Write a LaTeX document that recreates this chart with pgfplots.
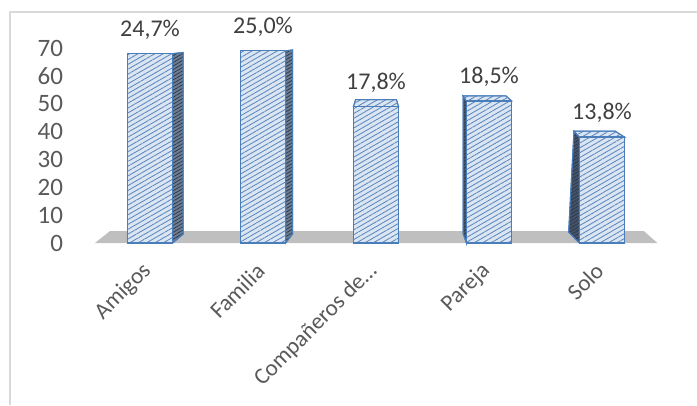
\documentclass[border=0pt]{standalone}
\usepackage{pgfplots}
\pgfplotsset{compat=1.18}
\usepackage{fontspec}
\setmainfont{Carlito}
\usetikzlibrary{patterns.meta}
\definecolor{tickgray}{HTML}{595959}
\definecolor{labgray}{HTML}{404040}
\definecolor{barline}{HTML}{4A7EBB}
\definecolor{barfill}{HTML}{DCE6F2}
\definecolor{hatch}{HTML}{5A88C0}
\definecolor{sidefill}{HTML}{6F7D91}
\definecolor{sidehatch}{HTML}{2C3B52}
\definecolor{darkside}{HTML}{465266}
\definecolor{floorgray}{HTML}{BFBFBF}
\definecolor{framegray}{HTML}{D9D9D9}
\tikzset{
  fronthatch/.style={postaction={pattern={Lines[angle=30,distance=4.2pt,line width=0.85pt]},pattern color=hatch}},
  sidehatchst/.style={postaction={pattern={Lines[angle=30,distance=3pt,line width=0.8pt]},pattern color=sidehatch}},
}
\begin{document}
\begin{tikzpicture}[x=1pt,y=1pt]
\useasboundingbox (0,0) rectangle (697,405);
\draw[framegray, line width=1.5pt] (10,0) -- (10,393) -- (697,393);
\begin{axis}[
  at={(93.5pt,162pt)}, anchor=south west,
  scale only axis, width=565pt, height=195pt,
  xmin=-0.5, xmax=4.5, ymin=0, ymax=70,
  clip=false,
  axis line style={draw=none},
  major tick length=0pt,
  /pgf/number format/assume math mode=true,
  ytick={0,10,...,70},
  xtick={0,...,4},
  xticklabels={Amigos,Familia,Compañeros de…,Pareja,Solo},
  yticklabel style={font=\fontsize{25}{28}\selectfont, text=tickgray, anchor=east, xshift=-27pt},
  xticklabel style={font=\fontsize{23}{26}\selectfont, text=tickgray, xshift=0pt, yshift=-22pt, rotate=45, anchor=east},
  every node near coord/.append style={font=\fontsize{24}{28}\selectfont, text=labgray, anchor=center, yshift=24pt},
]
% floor
\addplot[fill=floorgray, draw=none, forget plot] coordinates {(-0.487,0) (4.49,0) (4.37,4.3) (-0.354,4.3)} -- cycle;
% side faces
\addplot[fill=sidefill, draw=barline, line width=1pt, sidehatchst, forget plot] coordinates {(0.2,0) (0.2,68) (0.293,68.4) (0.293,3.2)} -- cycle;
\addplot[fill=sidefill, draw=barline, line width=1pt, sidehatchst, forget plot] coordinates {(1.2,0) (1.2,69) (1.262,69.3) (1.262,3.2)} -- cycle;
\addplot[fill=darkside, draw=barline, line width=1pt, sidehatchst, forget plot] coordinates {(2.8,0) (2.8,51) (2.77,52.8) (2.77,3.5)} -- cycle;
\addplot[fill=darkside, draw=barline, line width=1pt, sidehatchst, forget plot] coordinates {(3.8,0) (3.8,38) (3.752,40.2) (3.705,3.9)} -- cycle;
% top faces
\addplot[fill=barfill, draw=barline, line width=1pt, fronthatch, forget plot] coordinates {(1.8,49) (2.2,49) (2.18,51.5) (1.82,51.5)} -- cycle;
\addplot[fill=barfill, draw=barline, line width=1pt, fronthatch, forget plot] coordinates {(2.8,51) (3.2,51) (3.15,52.8) (2.77,52.8)} -- cycle;
\addplot[fill=barfill, draw=barline, line width=1pt, fronthatch, forget plot] coordinates {(3.8,38) (4.2,38) (4.115,40.2) (3.752,40.2)} -- cycle;
% front faces
\addplot[ybar, bar width=45pt, fill=barfill, draw=barline, line width=1.3pt, fronthatch,
  nodes near coords, point meta=explicit symbolic] coordinates {
  (0,68) [24,7\%]
  (1,69) [25,0\%]
  (2,49) [17,8\%]
  (3,51) [18,5\%]
  (4,38) [13,8\%]
};
\end{axis}
\end{tikzpicture}
\end{document}
